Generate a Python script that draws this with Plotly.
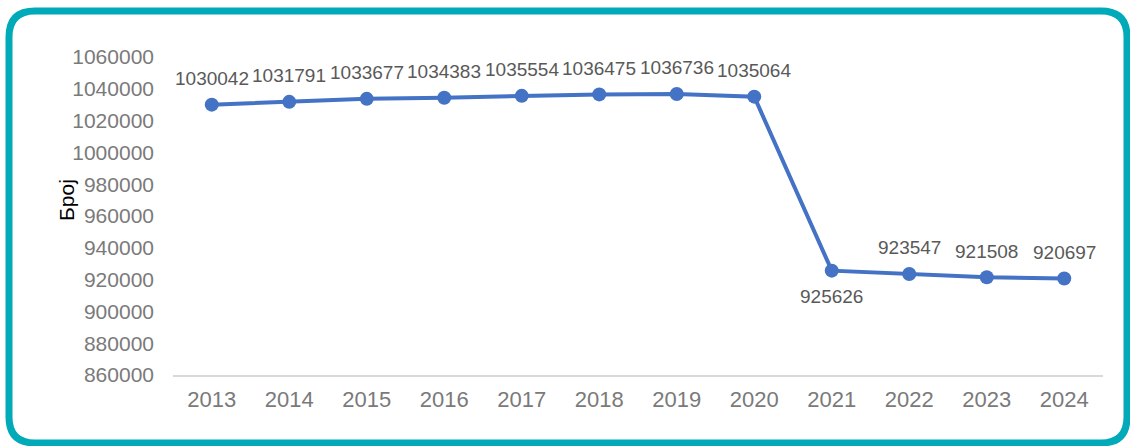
import plotly.graph_objects as go

years = ["2013", "2014", "2015", "2016", "2017", "2018", "2019", "2020",
         "2021", "2022", "2023", "2024"]
counts = [1030042, 1031791, 1033677, 1034383, 1035554, 1036475, 1036736,
          1035064, 925626, 923547, 921508, 920697]
label_below = [False] * 8 + [True] + [False] * 3
y_ticks = list(range(860000, 1060001, 20000))

W, H = 1130, 446
L, R, T, B = 173, 27, 57, 71
pw, ph = W - L - R, H - T - B


def px(x):
    return (x - L) / pw


def py(y):
    return (H - B - y) / ph


# rounded teal frame around the chart, in pixel terms
x0, x1, y0, y1, r = 9, 1127, 11, 443, 26
frame = (
    f"M {px(x0)},{py(y0 + r)} Q {px(x0)},{py(y0)} {px(x0 + r)},{py(y0)} "
    f"L {px(x1 - r)},{py(y0)} Q {px(x1)},{py(y0)} {px(x1)},{py(y0 + r)} "
    f"L {px(x1)},{py(y1 - r)} Q {px(x1)},{py(y1)} {px(x1 - r)},{py(y1)} "
    f"L {px(x0 + r)},{py(y1)} Q {px(x0)},{py(y1)} {px(x0)},{py(y1 - r)} Z"
)

fig = go.Figure()
fig.add_trace(go.Scatter(
    x=years, y=counts,
    mode="lines+markers",
    line=dict(color="#4472C4", width=4),
    marker=dict(color="#4472C4", size=14),
    hoverinfo="skip",
))

annots = []
for i, (v, below) in enumerate(zip(counts, label_below)):
    annots.append(dict(
        x=i, y=v, xref="x", yref="y", text=str(v), showarrow=False,
        yshift=-26 if below else 26,
        font=dict(size=19, color="#595959"),
        xanchor="center", yanchor="middle",
    ))
annots.append(dict(
    text="Број", xref="paper", yref="paper",
    x=px(66), y=py(200), textangle=-90, showarrow=False,
    font=dict(size=21, color="black"),
    xanchor="center", yanchor="middle",
))

fig.update_layout(
    width=W, height=H,
    margin=dict(l=L, r=R, t=T, b=B),
    paper_bgcolor="white", plot_bgcolor="white",
    font=dict(family="Liberation Sans, Arial, sans-serif", size=20, color="#7A7A7A"),
    showlegend=False,
    xaxis=dict(
        type="category", range=[-0.5, 11.5],
        showgrid=False, zeroline=False,
        showline=True, linecolor="#D9D9D9", linewidth=1.5,
        ticks="", tickfont=dict(size=22, color="#7A7A7A"),
        ticklabelstandoff=4,
    ),
    yaxis=dict(
        range=[860000, 1060000], tickvals=y_ticks,
        ticktext=[str(v) for v in y_ticks],
        showgrid=False, zeroline=False, showline=False,
        ticks="", tickfont=dict(size=21, color="#7A7A7A"),
        ticklabelstandoff=18,
    ),
    shapes=[dict(type="path", xref="paper", yref="paper", path=frame,
                 line=dict(color="#00AAB9", width=7), layer="above")],
    annotations=annots,
)

fig.write_html("out.html", config={"displayModeBar": False},
               post_script="document.body.style.margin='0';")
